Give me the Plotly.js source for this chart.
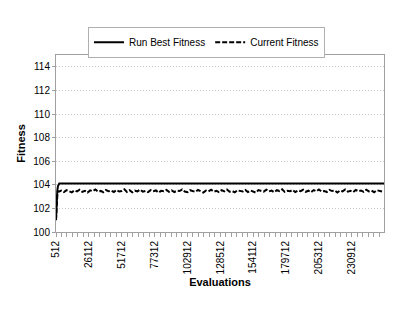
<!DOCTYPE html>
<html>
<head>
<meta charset="utf-8">
<script src="https://cdn.plot.ly/plotly-3.0.1.min.js"></script>
<style>html,body{margin:0;padding:0;background:#fff;}#chart{width:415px;height:315px;}</style>
</head>
<body>
<div id="chart"></div>
<script>
// Tick labels (evaluations) shown on the x axis
var tickLabels = [512, 26112, 51712, 77312, 102912, 128512, 154112, 179712, 205312, 230912];

// Run Best Fitness: early climb then flat
var bestEvals = [512, 1024, 1536, 2048, 2560, 3072, 4096, 256000];
var bestFitness = [101.1, 102.7, 103.5, 103.9, 104.05, 104.1, 104.1, 104.1];

// Current Fitness: early climb
var currentEarlyEvals = [512, 1024, 1536, 2048];
var currentEarlyFitness = [101.0, 102.4, 103.1, 103.45];

// Current Fitness: sampled every 2048 evaluations starting at 2560
var currentFitness = [
103.42,103.50,103.38,103.55,103.47,103.36,103.52,103.44,103.58,103.40,
103.49,103.35,103.53,103.46,103.60,103.41,103.48,103.37,103.56,103.45,
103.51,103.39,103.57,103.43,103.47,103.62,103.40,103.54,103.36,103.50,
103.44,103.59,103.42,103.48,103.38,103.55,103.46,103.52,103.34,103.49,
103.45,103.57,103.41,103.53,103.39,103.50,103.47,103.61,103.43,103.37,
103.54,103.46,103.40,103.56,103.48,103.35,103.51,103.44,103.58,103.42,
103.49,103.38,103.55,103.45,103.60,103.41,103.47,103.36,103.53,103.50,
103.43,103.57,103.39,103.52,103.46,103.34,103.55,103.48,103.42,103.59,
103.44,103.51,103.37,103.54,103.47,103.62,103.40,103.49,103.45,103.56,
103.38,103.52,103.46,103.58,103.41,103.50,103.36,103.55,103.44,103.60,
103.43,103.48,103.39,103.57,103.47,103.53,103.35,103.51,103.45,103.61,
103.42,103.49,103.38,103.56,103.46,103.52,103.40,103.58,103.44,103.50,
103.37,103.54,103.47,103.43
];

// category positions for the sampled series (every 4th category of 512)
var currentEvals = currentEarlyEvals.slice();
var currentAll = currentEarlyFitness.slice();
for (var i = 0; i < currentFitness.length; i++) {
  currentEvals.push(2560 + 2048 * i);
  currentAll.push(currentFitness[i]);
}

var font = "'Liberation Sans', Arial, sans-serif";

var traces = [
  {x: bestEvals, y: bestFitness, type: 'scatter', mode: 'lines', name: 'Run Best Fitness',
   line: {color: '#000000', width: 2}},
  {x: currentEvals, y: currentAll, type: 'scatter', mode: 'lines', name: 'Current Fitness',
   line: {color: '#000000', width: 2, dash: '5px,2px'}}
];

var layout = {
  width: 415, height: 315,
  margin: {l: 56, r: 31, t: 55, b: 83},
  paper_bgcolor: '#ffffff', plot_bgcolor: '#ffffff',
  font: {family: font, size: 10, color: '#000000'},
  showlegend: true,
  legend: {orientation: 'h', x: 0.0976, xanchor: 'left', y: 1.16, yanchor: 'top',
           bordercolor: '#b0b0b0', borderwidth: 1, font: {family: font, size: 10, color: '#000'},
           tracegroupgap: 0, itemwidth: 30},
  xaxis: {
    range: [512, 256000], tickmode: 'array', tickvals: tickLabels,
    ticktext: tickLabels.map(String), tickangle: -90,
    ticks: 'outside', ticklen: 4, tickcolor: '#a0a0a0',
    minor: {dtick: 25600 / 6, tick0: 512, ticks: 'outside', ticklen: 4, tickcolor: '#a0a0a0', showgrid: false},
    showline: true, linecolor: '#a0a0a0', linewidth: 1, mirror: true,
    showgrid: false, zeroline: false,
    tickfont: {family: font, size: 10, color: '#000'},
    title: {text: '<b>Evaluations</b>', font: {family: font, size: 11, color: '#000'}, standoff: 4},
    automargin: false
  },
  yaxis: {
    range: [100, 115], tickmode: 'array', tickvals: [100, 102, 104, 106, 108, 110, 112, 114],
    ticks: 'outside', ticklen: 3, tickcolor: '#a0a0a0',
    showline: true, linecolor: '#a0a0a0', linewidth: 1, mirror: true,
    showgrid: true, gridcolor: '#c8c8c8', griddash: '1px,2px', gridwidth: 1, zeroline: false,
    tickfont: {family: font, size: 10, color: '#000'},
    title: {text: '<b>Fitness</b>', font: {family: font, size: 11, color: '#000'}, standoff: 5},
    automargin: false
  }
};

Plotly.newPlot('chart', traces, layout, {staticPlot: true, displayModeBar: false});
</script>
</body>
</html>
